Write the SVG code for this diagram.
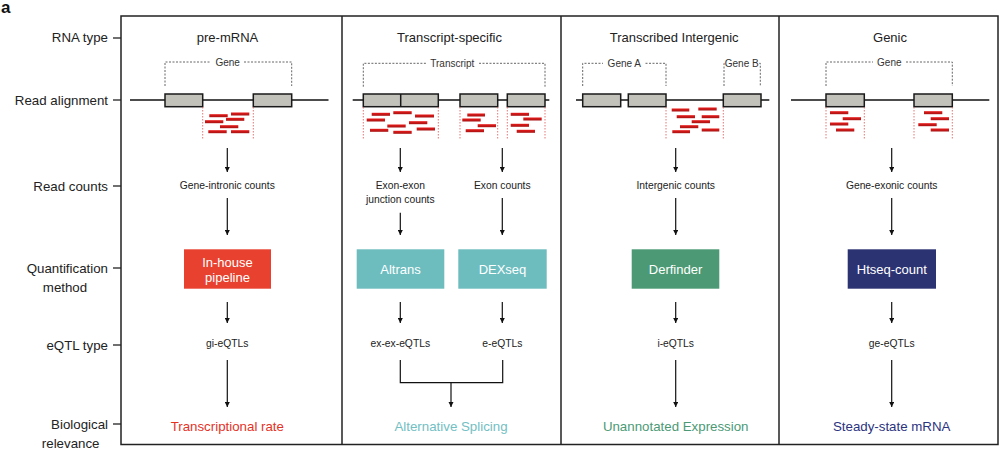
<svg xmlns="http://www.w3.org/2000/svg" width="1000" height="459" viewBox="0 0 1000 459">
<defs>
<marker id="ah" viewBox="0 0 10 10" refX="10" refY="5" markerWidth="5.5" markerHeight="5.5" orient="auto" markerUnits="userSpaceOnUse">
<path d="M0,0 L10,5 L0,10 z" fill="#111"/>
</marker>
<linearGradient id="rd" x1="0" y1="0" x2="0" y2="1">
<stop offset="0" stop-color="#e81a1a"/>
<stop offset="1" stop-color="#a81414"/>
</linearGradient>
</defs>
<style>
text{font-family:"Liberation Sans",Arial,sans-serif;}
.lab{font-size:13.3px;fill:#222;text-anchor:end;}
.labm{font-size:13.3px;fill:#222;text-anchor:middle;}
.hdr{font-size:13px;fill:#222;text-anchor:middle;}
.sm{font-size:10.3px;fill:#222;text-anchor:middle;}
.gl{font-size:10px;fill:#333;text-anchor:middle;}
.bx{font-size:13px;fill:#fff;text-anchor:middle;}
.rel{font-size:13.3px;text-anchor:middle;}
.frame{fill:none;stroke:#222;stroke-width:1.5;}
.tick{stroke:#222;stroke-width:1.3;}
.dna{stroke:#111;stroke-width:1.6;}
.ex{fill:#c2c1ba;stroke:#1a1a1a;stroke-width:1.5;}
.br{fill:none;stroke:#555;stroke-width:0.9;stroke-dasharray:2 1.5;}
.rl{stroke:#e05050;stroke-width:0.8;stroke-dasharray:1.5 1.5;}
.rd{fill:url(#rd);}
.ar{stroke:#111;stroke-width:1.2;fill:none;marker-end:url(#ah);}
.ln{stroke:#111;stroke-width:1.2;fill:none;}
</style>
<rect width="1000" height="459" fill="#fff"/>
<text x="1" y="13" style="font-size:17px;font-weight:bold;fill:#111">a</text>

<g id="row-labels">
<text class="lab" x="108" y="42">RNA type</text>
<text class="lab" x="108" y="104.5">Read alignment</text>
<text class="lab" x="108" y="190.5">Read counts</text>
<text class="lab" x="108" y="272.5">Quantification</text>
<text class="labm" x="65" y="291.5">method</text>
<text class="lab" x="108" y="349.5">eQTL type</text>
<text class="lab" x="108" y="428.5">Biological</text>
<text class="lab" x="99.5" y="447.8">relevance</text>
<line class="tick" x1="113" y1="38" x2="121" y2="38"/>
<line class="tick" x1="113" y1="100" x2="121" y2="100"/>
<line class="tick" x1="113" y1="186" x2="121" y2="186"/>
<line class="tick" x1="113" y1="268" x2="121" y2="268"/>
<line class="tick" x1="113" y1="345" x2="121" y2="345"/>
<line class="tick" x1="113" y1="424" x2="121" y2="424"/>
</g>

<g id="frame">
<rect class="frame" x="121" y="16" width="877" height="428.5"/>
<line class="frame" x1="342" y1="16" x2="342" y2="444.5"/>
<line class="frame" x1="561" y1="16" x2="561" y2="444.5"/>
<line class="frame" x1="779" y1="16" x2="779" y2="444.5"/>
</g>

<g id="panel-premrna">
<text class="hdr" x="227.5" y="41.5">pre-mRNA</text>
<path class="br" d="M165,86 V62 H211 M244,62 H291.7 V86"/>
<text class="gl" x="227.7" y="65.5">Gene</text>
<line class="dna" x1="130" y1="100" x2="328.5" y2="100"/>
<rect class="ex" x="165" y="94" width="37.7" height="12.7"/>
<rect class="ex" x="253.3" y="94" width="38.4" height="12.7"/>
<line class="rl" x1="202.7" y1="107" x2="202.7" y2="140"/>
<line class="rl" x1="253.3" y1="107" x2="253.3" y2="140"/>
<g class="rd">
<rect x="209.3" y="114.2" width="18.4" height="3"/>
<rect x="231" y="112.5" width="18.3" height="3"/>
<rect x="205" y="120.2" width="18.3" height="3"/>
<rect x="226" y="117.8" width="18.3" height="3"/>
<rect x="220" y="125.2" width="18.3" height="3"/>
<rect x="208.3" y="130.2" width="18.4" height="3"/>
<rect x="231" y="130.2" width="18.3" height="3"/>
</g>
</g>

<g id="panel-transcript">
<text class="hdr" x="449.5" y="41.5">Transcript-specific</text>
<path class="br" d="M363.3,86.7 V63.3 H426 M479,63.3 H545 V86.7"/>
<text class="gl" x="452.3" y="66.8">Transcript</text>
<line class="dna" x1="352.7" y1="100" x2="549.3" y2="100"/>
<rect class="ex" x="363.3" y="94" width="75" height="12.7"/>
<line x1="400.7" y1="94" x2="400.7" y2="106.7" stroke="#1a1a1a" stroke-width="1.5"/>
<rect class="ex" x="460" y="94" width="37.7" height="12.7"/>
<rect class="ex" x="507.3" y="94" width="37.7" height="12.7"/>
<line class="rl" x1="363.3" y1="107" x2="363.3" y2="140"/>
<line class="rl" x1="438.3" y1="107" x2="438.3" y2="140"/>
<line class="rl" x1="460" y1="107" x2="460" y2="140"/>
<line class="rl" x1="497.7" y1="107" x2="497.7" y2="140"/>
<line class="rl" x1="507.3" y1="107" x2="507.3" y2="140"/>
<line class="rl" x1="545" y1="107" x2="545" y2="140"/>
<g class="rd">
<rect x="371.7" y="112.8" width="18.3" height="3"/>
<rect x="393.3" y="111.2" width="18.4" height="3"/>
<rect x="415" y="114.5" width="19" height="3"/>
<rect x="366.7" y="118.5" width="18.3" height="3"/>
<rect x="409" y="121.2" width="18.3" height="3"/>
<rect x="387.3" y="124.5" width="18.4" height="3"/>
<rect x="416.7" y="127.5" width="18.3" height="3"/>
<rect x="370" y="128.8" width="18.3" height="3"/>
<rect x="393.3" y="130.8" width="18.4" height="3"/>
<rect x="467.3" y="113.5" width="17.7" height="3"/>
<rect x="462.3" y="118.5" width="18.4" height="3"/>
<rect x="477.7" y="124.2" width="18.3" height="3"/>
<rect x="465.7" y="129.2" width="18.3" height="3"/>
<rect x="510.7" y="112.8" width="18.3" height="3"/>
<rect x="523.3" y="117.5" width="18.4" height="3"/>
<rect x="510.7" y="123.8" width="18.3" height="3"/>
<rect x="516.7" y="129.8" width="18.3" height="3"/>
</g>
</g>

<g id="panel-intergenic">
<text class="hdr" x="674.2" y="41.5">Transcribed Intergenic</text>
<path class="br" d="M582.7,86 V63.3 H603 M645.5,63.3 H666 V86"/>
<text class="gl" x="624.3" y="66.8">Gene A</text>
<path class="br" d="M724,86 V63.3 H725 M759.3,63.3 H760.3 V86"/>
<text class="gl" x="741.7" y="66.8">Gene B</text>
<line class="dna" x1="576" y1="100" x2="769.3" y2="100"/>
<rect class="ex" x="582.7" y="94" width="38" height="12.7"/>
<rect class="ex" x="628.3" y="94" width="37.7" height="12.7"/>
<rect class="ex" x="723.3" y="94" width="37.7" height="12.7"/>
<line class="rl" x1="666" y1="107" x2="666" y2="140"/>
<line class="rl" x1="723.3" y1="107" x2="723.3" y2="140"/>
<g class="rd">
<rect x="671.7" y="108.5" width="17.6" height="3"/>
<rect x="698.3" y="107.5" width="18.4" height="3"/>
<rect x="676.7" y="115.2" width="18.3" height="3"/>
<rect x="701.7" y="115.2" width="17.6" height="3"/>
<rect x="691.7" y="120.2" width="18.3" height="3"/>
<rect x="680" y="125.2" width="18.3" height="3"/>
<rect x="701.7" y="128.5" width="17.6" height="3"/>
<rect x="672.3" y="130.2" width="17.7" height="3"/>
</g>
</g>

<g id="panel-genic">
<text class="hdr" x="890" y="41.5">Genic</text>
<path class="br" d="M826,86 V62 H873 M906,62 H952.3 V86"/>
<text class="gl" x="889.3" y="65.5">Gene</text>
<line class="dna" x1="791" y1="100" x2="989.3" y2="100"/>
<rect class="ex" x="826" y="94" width="38.3" height="12.7"/>
<rect class="ex" x="914" y="94" width="38.3" height="12.7"/>
<line class="rl" x1="826" y1="107" x2="826" y2="140"/>
<line class="rl" x1="864.3" y1="107" x2="864.3" y2="140"/>
<line class="rl" x1="914" y1="107" x2="914" y2="140"/>
<line class="rl" x1="952.3" y1="107" x2="952.3" y2="140"/>
<g class="rd">
<rect x="830" y="111.2" width="18.3" height="3"/>
<rect x="842.7" y="117.2" width="18.3" height="3"/>
<rect x="830" y="122.5" width="18.3" height="3"/>
<rect x="836" y="128.5" width="18.3" height="3"/>
<rect x="924" y="111.2" width="18.3" height="3"/>
<rect x="930.7" y="117.2" width="18.3" height="3"/>
<rect x="918.3" y="123.2" width="18.4" height="3"/>
<rect x="930.7" y="128.5" width="18.3" height="3"/>
</g>
</g>

<g id="node-gene-intronic-counts"><text class="sm" x="227.3" y="189">Gene-intronic counts</text></g>
<g id="node-inhouse">
<rect x="184" y="249.3" width="87" height="39.4" fill="#e8412f"/>
<text class="bx" x="227.5" y="266.5">In-house</text>
<text class="bx" x="227.5" y="281.5">pipeline</text>
</g>
<g id="node-gi-eqtls"><text class="sm" x="227.3" y="346.5">gi-eQTLs</text></g>
<g id="node-transcriptional-rate"><text class="rel" x="227.3" y="431" fill="#e4321f">Transcriptional rate</text></g>

<g id="node-exon-exon-counts">
<text class="sm" x="400.3" y="189">Exon-exon</text>
<text class="sm" x="400.3" y="203">junction counts</text>
</g>
<g id="node-exon-counts"><text class="sm" x="502.3" y="189">Exon counts</text></g>
<g id="node-altrans">
<rect x="356.7" y="249.3" width="87.6" height="39.4" fill="#6dbdbf"/>
<text class="bx" x="400.5" y="274">Altrans</text>
</g>
<g id="node-dexseq">
<rect x="458.3" y="249.3" width="88.4" height="39.4" fill="#6dbdbf"/>
<text class="bx" x="502.5" y="274">DEXseq</text>
</g>
<g id="node-ex-ex-eqtls"><text class="sm" x="400.3" y="346.5">ex-ex-eQTLs</text></g>
<g id="node-e-eqtls"><text class="sm" x="502.3" y="346.5">e-eQTLs</text></g>
<g id="node-alternative-splicing"><text class="rel" x="451" y="431" fill="#72c0c3">Alternative Splicing</text></g>

<g id="node-intergenic-counts"><text class="sm" x="675.7" y="189">Intergenic counts</text></g>
<g id="node-derfinder">
<rect x="631.7" y="249.3" width="87.6" height="39.4" fill="#4b9a75"/>
<text class="bx" x="675.5" y="274">Derfinder</text>
</g>
<g id="node-i-eqtls"><text class="sm" x="675.7" y="346.5">i-eQTLs</text></g>
<g id="node-unannotated"><text class="rel" x="675.7" y="431" fill="#4b9a75">Unannotated Expression</text></g>

<g id="node-gene-exonic-counts"><text class="sm" x="891.7" y="189">Gene-exonic counts</text></g>
<g id="node-htseq">
<rect x="847.7" y="249.3" width="88.3" height="39.4" fill="#2b3373"/>
<text class="bx" x="891.8" y="274">Htseq-count</text>
</g>
<g id="node-ge-eqtls"><text class="sm" x="891.7" y="346.5">ge-eQTLs</text></g>
<g id="node-steady-state"><text class="rel" x="891.7" y="431" fill="#2b3380">Steady-state mRNA</text></g>

<g id="connectors">
<line class="ar" x1="227.3" y1="148" x2="227.3" y2="172"/>
<line class="ar" x1="227.3" y1="198" x2="227.3" y2="235"/>
<line class="ar" x1="227.3" y1="302" x2="227.3" y2="323"/>
<line class="ar" x1="227.3" y1="360" x2="227.3" y2="407"/>

<line class="ar" x1="400.3" y1="148" x2="400.3" y2="172"/>
<line class="ar" x1="502.3" y1="148" x2="502.3" y2="172"/>
<line class="ar" x1="400.3" y1="212.7" x2="400.3" y2="235"/>
<line class="ar" x1="502.3" y1="198" x2="502.3" y2="235"/>
<line class="ar" x1="400.3" y1="302" x2="400.3" y2="323"/>
<line class="ar" x1="502.3" y1="302" x2="502.3" y2="323"/>
<path class="ln" d="M400.3,360 V382.7 H502.7 V360"/>
<line class="ar" x1="451" y1="382.7" x2="451" y2="407"/>

<line class="ar" x1="675.7" y1="148" x2="675.7" y2="172"/>
<line class="ar" x1="675.7" y1="198" x2="675.7" y2="235"/>
<line class="ar" x1="675.7" y1="302" x2="675.7" y2="323"/>
<line class="ar" x1="675.7" y1="360" x2="675.7" y2="407"/>

<line class="ar" x1="891.7" y1="148" x2="891.7" y2="172"/>
<line class="ar" x1="891.7" y1="198" x2="891.7" y2="235"/>
<line class="ar" x1="891.7" y1="302" x2="891.7" y2="323"/>
<line class="ar" x1="891.7" y1="360" x2="891.7" y2="407"/>
</g>
</svg>
